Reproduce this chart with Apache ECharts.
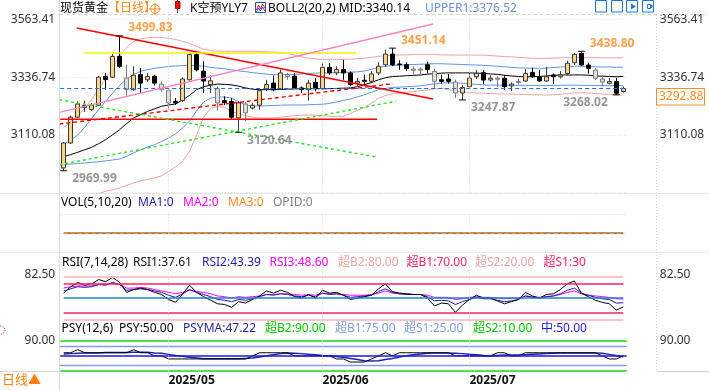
<!DOCTYPE html>
<html>
<head>
<meta charset="utf-8">
<title>现货黄金 日线</title>
<script src="https://cdn.jsdelivr.net/npm/echarts@6.0.0/dist/echarts.min.js"></script>
<style>
html,body{margin:0;padding:0;background:#ffffff;overflow:hidden;}
#chart{width:709px;height:390px;}
</style>
</head>
<body>
<div id="chart"></div>
<script>
// ================= DATA =================
const dates = ['2025-04-09','2025-04-10','2025-04-11','2025-04-14','2025-04-15','2025-04-16','2025-04-17','2025-04-21','2025-04-22','2025-04-23','2025-04-24','2025-04-25','2025-04-28','2025-04-29','2025-04-30',
'2025-05-01','2025-05-02','2025-05-05','2025-05-06','2025-05-07','2025-05-08','2025-05-09','2025-05-12','2025-05-13','2025-05-14','2025-05-15','2025-05-16','2025-05-19','2025-05-20','2025-05-21','2025-05-22','2025-05-23','2025-05-26','2025-05-27','2025-05-28','2025-05-29','2025-05-30',
'2025-06-02','2025-06-03','2025-06-04','2025-06-05','2025-06-06','2025-06-09','2025-06-10','2025-06-11','2025-06-12','2025-06-13','2025-06-16','2025-06-17','2025-06-18','2025-06-19','2025-06-20','2025-06-23','2025-06-24','2025-06-25','2025-06-26','2025-06-27','2025-06-30',
'2025-07-01','2025-07-02','2025-07-03','2025-07-04','2025-07-07','2025-07-08','2025-07-09','2025-07-10','2025-07-11','2025-07-14','2025-07-15','2025-07-16','2025-07-17','2025-07-18','2025-07-21','2025-07-22','2025-07-23','2025-07-24','2025-07-25','2025-07-28','2025-07-29','2025-07-30','2025-07-31'];

const opens = [2980.5,3078.7,3180,3218,3210,3227,3340,3337,3419,3334, 3288,3347,3327,3341,3310,3284,3242,3245,3327,3426, 3361,3308,3292,3245,3242,3177,3232,3216,3227,3291, 3314,3291,3347,3341,3295,3288,3317,3292,3376,3354, 3367,3354,3314,3325,3321,3354,3386,3428,3389,3386, 3369,3369,3386,3360,3327,3330,3318,3275,3300,3339, 3355,3326,3333,3333,3303,3320,3322,3356,3337,3322, 3346,3339,3352,3394,3431,3385,3365,3330,3313,3320, 3281];
const closes = [3078.7,3180,3232,3226,3227,3337,3328,3419,3380,3288, 3345,3314,3340,3314,3288,3236,3236,3330,3426,3366, 3322,3323,3236,3237,3180,3236,3197,3227,3284,3308, 3288,3354,3340,3295,3289,3314,3292,3376,3354,3367, 3354,3308,3321,3321,3350,3380,3428,3386,3386,3371, 3364,3365,3367,3321,3321,3321,3275,3297,3333,3352, 3326,3333,3329,3300,3310,3316,3352,3339,3322,3339, 3339,3346,3392,3427,3385,3372,3333,3318,3320,3274, 3292.88];
const lows = [2969.99,3075,3175,3200,3205,3224,3288,3334,3373,3262, 3284,3275,3318,3305,3280,3210,3228,3240,3324,3360, 3275,3275,3206,3227,3170,3120.64,3164,3210,3210,3282, 3282,3288,3327,3291,3275,3245,3282,3288,3347,3345, 3327,3301,3301,3308,3314,3345,3378,3380,3366,3362, 3347,3342,3352,3295,3312,3312,3256,3247.87,3297,3330, 3311,3320,3298,3287,3283,3308,3318,3335,3318,3319, 3310,3332,3345,3385,3381,3351,3325,3301,3309,3268.02, 3276];
const highs = [3083,3186,3242,3245,3235,3342,3354,3428,3499.83,3386, 3380,3373,3354,3347,3320,3290,3255,3336,3433,3434, 3400,3344,3301,3262,3255,3243,3240,3236,3292,3327, 3344,3367,3354,3354,3301,3327,3334,3393,3393,3380, 3406,3360,3334,3347,3360,3396,3445,3451.14,3404,3396, 3379,3375,3398,3370,3347,3350,3328,3306,3358,3366, 3365,3345,3342,3345,3317,3330,3369,3375,3366,3377, 3352,3361,3402,3433,3438.80,3394,3373,3345,3334,3334, 3300];
// candle colouring class of the source software: u = yellow, d = black, g = grey
const kinds = 'uuuuuududg' + 'ududggduud' + 'dugdduguuu' + 'dugddududu' + 'dduduuuddd' + 'ggdgddguuu' + 'dugduguddu' + 'duuuddggud' + 'u';

const priceTickLabels = [3563.41, 3336.74, 3110.08];
const lastPrice = 3292.88;

const bollMid = [3025,3033,3042,3052,3062,3076,3092,3111,3131,3155, 3177,3190,3203,3213,3223,3228,3232,3248,3266,3288, 3300,3306,3310,3309,3307,3302,3295,3290,3288,3288, 3288,3289,3290,3291,3292,3292,3292,3292,3292,3293, 3294,3295,3300,3308,3316,3327,3335,3340,3341,3343, 3344,3346,3349,3351,3353,3354,3354,3354,3354,3353, 3352,3350,3348,3345,3342,3340,3339,3339,3340,3342, 3344,3346,3346,3346,3346,3345,3342,3341,3340,3339, 3340.14];
const bollUpper1 = [3075,3090,3110,3140,3175,3210,3242,3275,3305,3330, 3348,3360,3367,3372,3376,3379,3381,3383,3384,3383, 3380,3376,3373,3370,3366,3362,3359,3355,3352,3349, 3347,3347,3347,3348,3350,3352,3353,3354,3354,3355, 3356,3357,3358,3362,3368,3376,3380,3383,3385,3386, 3387,3388,3389,3390,3390,3389,3388,3387,3386,3385, 3384,3382,3380,3378,3376,3374,3373,3372,3372,3373, 3375,3377,3379,3380,3380,3379,3378,3377,3377,3376, 3376.52];
const bollLower1 = [2994,2996,2998,3000,3003,3005,3008,3012,3016,3026, 3040,3052,3063,3072,3085,3098,3115,3138,3165,3205, 3240,3255,3260,3259,3255,3240,3228,3224,3224,3225, 3226,3227,3228,3228,3228,3229,3230,3231,3234,3240, 3246,3252,3260,3268,3278,3288,3293,3297,3298,3300, 3301,3303,3307,3311,3314,3315,3315,3313,3311,3309, 3307,3306,3306,3306,3306,3305,3305,3305,3304,3304, 3305,3305,3306,3306,3305,3305,3304,3304,3304,3304, 3303.8];
const bollUpper2 = [3140,3160,3185,3215,3250,3290,3330,3375,3420,3455, 3478,3488,3492,3494,3493,3490,3485,3478,3470,3458, 3447,3442,3440,3439,3439,3439,3439,3439,3438,3437, 3436,3434,3430,3424,3417,3412,3409,3407,3406,3406, 3407,3408,3410,3412,3415,3419,3421,3423,3424,3425, 3426,3426,3426,3426,3425,3424,3424,3424,3424,3424, 3424,3422,3420,3418,3417,3415,3413,3412,3411,3411, 3412,3413,3414,3414,3414,3414,3414,3413,3413,3413, 3412.9];
const bollLower2 = [2850,2850,2855,2860,2870,2880,2889,2895,2902,2912, 2922,2930,2936,2941,2950,2967,2985,3007,3046,3110, 3180,3215,3222,3218,3205,3192,3186,3180,3177,3176, 3178,3180,3183,3186,3188,3189,3188,3186,3184,3183, 3184,3195,3208,3218,3235,3255,3265,3272,3275,3278, 3281,3284,3287,3291,3294,3288,3282,3279,3277,3275, 3274,3273,3272,3271,3271,3270,3269,3268,3268,3267, 3268,3270,3273,3275,3276,3275,3273,3271,3269,3268, 3267.4];

// marked highs / lows (candle index, price)
const extremeIdx = [8, 47, 74, 0, 25, 57, 79];
const extremeVal = [3499.83, 3451.14, 3438.80, 2969.99, 3120.64, 3247.87, 3268.02];

// hand-drawn lines: [[candle index, price], [candle index, price]]
const trendRedDown   = [[1.86, 3530.4], [52.8, 3251.5]];
const trendYellow    = [[2.95, 3432.2], [41.8, 3432.2]];
const trendRedFlat   = [[-0.5, 3172.0], [44.8, 3172.0]];
const trendPinkUp    = [[-0.63, 3199.3], [52.8, 3546.1]];
const trendRedDashed = [[-0.63, 3153.3], [47.1, 3311.6]];
const trendGreenDown = [[-0.63, 3248.8], [44.9, 3022.5]];
const trendGreenUp   = [[-0.63, 2993.4], [47.5, 3242.5]];

const volume = [0,0,0,0,0,0,0,0,0,0, 0,0,0,0,0,0,0,0,0,0, 0,0,0,0,0,0,0,0,0,0, 0,0,0,0,0,0,0,0,0,0, 0,0,0,0,0,0,0,0,0,0, 0,0,0,0,0,0,0,0,0,0, 0,0,0,0,0,0,0,0,0,0, 0,0,0,0,0,0,0,0,0,0, 0];

const rsi1 = [57,66,72,68,70,76,73,79,72,58, 62,64,62,58,55,48,44,56,68,58, 52,47,42,41,37,45,43,48,53,60, 57,61,58,52,50,55,50,61,57,58, 54,48,50,52,54,63,70,59,57,56, 55,55,50,39,43,42,30,40,48,54, 50,50,46,42,45,48,58,53,50,55, 56,62,70,74,57,52,47,44,42,33, 37.61];
const rsi2 = [60,63,66,65,66,69,68,72,69,61, 62,63,62,60,58,54,51,56,62,58, 55,52,48,47,45,48,47,49,52,55, 54,56,55,53,52,54,52,57,55,56, 54,51,52,53,54,59,63,58,56,55, 55,55,52,46,47,46,41,45,48,51, 49,49,47,45,46,48,53,51,50,52, 53,56,61,64,57,54,51,49,48,43, 43.39];
const rsi3 = [64,66,67,67,67,69,69,71,69,64, 64,65,64,62,60,58,56,58,61,59, 58,56,53,52,50,52,51,52,53,55, 55,56,56,55,54,55,54,57,56,56, 55,54,54,54,55,57,60,57,56,56, 55,55,54,51,51,51,48,49,51,52, 51,51,50,49,50,50,53,52,51,52, 53,55,58,60,56,54,53,52,51,49, 48.60];
const rsiLevels = [80, 70, 50, 30, 20];

const psy = [58.33,58.33,66.67,58.33,58.33,58.33,58.33,58.33,58.33,58.33, 66.67,58.33,58.33,50,50,41.67,41.67,41.67,41.67,41.67, 41.67,41.67,41.67,41.67,41.67,41.67,41.67,50,58.33,58.33, 58.33,58.33,58.33,50,50,50,50,50,50,41.67, 41.67,33.33,33.33,33.33,41.67,50,58.33,50,58.33,58.33, 58.33,58.33,58.33,58.33,58.33,58.33,50,50,50,50, 50,50,58.33,58.33,50,50,58.33,58.33,58.33,58.33, 58.33,58.33,58.33,58.33,58.33,58.33,58.33,50,41.67,41.67, 50];
const psyMa = [55,56,57,58,58,58,59,59,59,59, 60,60,60,58,57,54,51,49,46,44, 42,42,42,42,42,42,43,44,47,50, 53,56,58,57,56,54,53,51,50,48, 46,43,40,37,36,37,40,43,47,50, 53,55,57,58,58,58,57,56,54,53, 51,50,51,52,52,52,53,54,55,56, 57,58,58,58,58,58,58,57,54,51, 47.22];
const psyLevels = [90, 75, 50, 25, 10];

const monthTicks = ['2025-05-01', '2025-06-02', '2025-07-01'];
const monthLabels = ['2025/05', '2025/06', '2025/07'];

const bollMidValue = 3340.14;
const bollUpper1Value = 3376.52;
const rsiValues = [37.61, 43.39, 48.60];
const psyValue = 50.00;
const psyMaValue = 47.22;

// ================= CHART =================
const FONT = '"Noto Sans","Noto Sans CJK SC",sans-serif';
const N = dates.length;
const LAST = N - 1;
const chart = echarts.init(document.getElementById('chart'), null, {renderer: 'canvas', width: 709, height: 390});

const kindStyle = {
  u: {fill: '#f8d488', border: '#3a3a3a'},
  d: {fill: '#000000', border: '#000000'},
  g: {fill: '#dedede', border: '#7c7c7c'}
};
const candleData = dates.map((d, i) => {
  const k = kindStyle[kinds[i]];
  return {value: [opens[i], closes[i], lows[i], highs[i]],
    itemStyle: {color: k.fill, color0: k.fill, borderColor: k.border, borderColor0: k.border, borderWidth: 1}};
});

const GL = 60.2, GW = 566.6;
const grids = [
  {left: GL, width: GW, top: 14.5, height: 178.2},
  {left: GL, width: GW, top: 214, height: 19.3},
  {left: GL, width: GW, top: 264.95, height: 59.85},
  {left: GL, width: GW, top: 337.3, height: 37.1}
].map(g => Object.assign(g, {containLabel: false, outerBoundsMode: 'none', borderWidth: 0}));

const axisText = {color: '#333333', fontSize: 12, fontFamily: FONT};
function catAxis(gridIndex, withLabels) {
  return {
    type: 'category', gridIndex, data: dates, boundaryGap: true,
    axisLine: {show: false}, axisTick: {show: false}, splitLine: {show: false},
    axisLabel: withLabels ? {
      show: true, interval: (idx, val) => monthTicks.indexOf(val) >= 0,
      formatter: (val) => monthLabels[monthTicks.indexOf(val)] || '',
      align: 'left', margin: 0, color: '#111', fontWeight: 'bold', fontSize: 12, fontFamily: FONT
    } : {show: false}
  };
}
function valAxis(gridIndex, position, min, max, interval, fmt, split) {
  return {
    type: 'value', gridIndex, position, min, max, interval, scale: false,
    axisLine: {show: false}, axisTick: {show: false},
    axisLabel: fmt ? Object.assign({show: true, formatter: fmt, showMinLabel: false, showMaxLabel: false,
      margin: position === 'left' ? 5 : 33}, axisText) : {show: false},
    splitLine: split ? {show: true, lineStyle: split} : {show: false}
  };
}
const mainFmt = v => { const m = priceTickLabels.find(t => Math.abs(t - v) < 0.1); return m ? m.toFixed(2) : ''; };
const rsiFmt = v => Math.abs(v - 82.5) < 0.01 ? '82.50' : '';
const psyFmt = v => Math.abs(v - 90) < 0.01 ? '90.00' : '';

const xAxes = [
  catAxis(0, false),
  {type: 'value', gridIndex: 0, min: -0.5, max: N - 0.5, show: false},
  catAxis(1, false),
  catAxis(2, false),
  catAxis(3, true)
];
const yAxes = [
  valAxis(0, 'left', 2883.41, 3583.41, 226.665, mainFmt, {color: '#e4e4e4', type: [1, 2], width: 1}),
  valAxis(0, 'right', 2883.41, 3583.41, 226.665, mainFmt, null),
  valAxis(1, 'left', 0, 1, 1, null, {color: '#e4e4e4', type: [2, 2], width: 1}),
  valAxis(2, 'left', 12.5, 96.5, 70, rsiFmt, null),
  valAxis(2, 'right', 12.5, 96.5, 70, rsiFmt, null),
  valAxis(3, 'left', 0, 100, 90, psyFmt, null),
  valAxis(3, 'right', 0, 100, 90, psyFmt, null)
];

const monthLine = (extra) => Object.assign({
  silent: true, symbol: ['none', 'none'], label: {show: false},
  lineStyle: {color: '#d6d6d6', type: [1, 2], width: 1},
  data: monthTicks.map(d => ({xAxis: d}))
}, extra || {});

function line(name, data, xi, yi, color, width, extra) {
  return Object.assign({
    name, type: 'line', data, xAxisIndex: xi, yAxisIndex: yi, symbol: 'none', smooth: false,
    lineStyle: {color, width}, silent: true, z: 3
  }, extra || {});
}
function trend(name, pts, color, width, type) {
  return {name, type: 'line', data: pts, xAxisIndex: 1, yAxisIndex: 0, symbol: 'none', silent: true,
    lineStyle: {color, width, type}, z: 6, clip: true};
}

const rsiLevelStyle = {80: ['#f6b3b3', 1.5], 70: ['#ff1f64', 1.5], 50: ['#1f80d0', 1.5], 30: ['#ff1f64', 1.5], 20: ['#f6b3b3', 1.5]};
const psyLevelStyle = {90: ['#11dd11', 1.5], 75: ['#7f9ee2', 1.3], 50: ['#1a1ae0', 1.5], 25: ['#7f9ee2', 1.3], 10: ['#11dd11', 1.5]};

const extremeData = extremeIdx.map((i, k) => {
  const v = extremeVal[k];
  const isHigh = Math.abs(v - highs[i]) < 0.001;
  const nearRight = i > N - 5;
  return {
    value: [dates[i], v],
    label: {
      show: true, formatter: v.toFixed(2),
      position: nearRight ? 'left' : 'right', distance: 5,
      offset: [0, isHigh ? -8 : 8],
      color: isHigh ? '#ff8a1e' : '#7c7c7c', fontWeight: 'bold', fontSize: 12, fontFamily: FONT
    }
  };
});

const series = [
  line('UPPER2', bollUpper2, 0, 0, '#f2a1a1', 1),
  line('LOWER2', bollLower2, 0, 0, '#f2a1a1', 1),
  line('UPPER1', bollUpper1, 0, 0, '#5f92e8', 1),
  line('LOWER1', bollLower1, 0, 0, '#5f92e8', 1),
  line('MID', bollMid, 0, 0, '#000000', 1, {markLine: monthLine()}),
  {
    name: 'K', type: 'candlestick', xAxisIndex: 0, yAxisIndex: 0, data: candleData, barWidth: 5, z: 4, silent: true,
    markLine: {
      silent: true, symbol: ['none', 'none'], label: {show: false},
      lineStyle: {color: '#1f6fe0', type: [4, 3], width: 1.2},
      data: [{yAxis: lastPrice}]
    }
  },
  trend('redDown', trendRedDown, '#ff0000', 1.5, 'solid'),
  trend('yellow', trendYellow, '#f4f400', 1.3, 'solid'),
  trend('redFlat', trendRedFlat, '#ff0000', 1.5, 'solid'),
  trend('pinkUp', trendPinkUp, '#ff80c4', 1.3, 'solid'),
  trend('redDashed', trendRedDashed, '#f00000', 1.4, [4, 3]),
  trend('greenDown', trendGreenDown, '#22e622', 1.4, [3, 3]),
  trend('greenUp', trendGreenUp, '#22e622', 1.4, [3, 3]),
  {
    name: 'extremes', type: 'scatter', xAxisIndex: 0, yAxisIndex: 0, data: extremeData,
    symbol: 'rect', symbolSize: [7, 1.2], itemStyle: {color: '#000'}, z: 8, silent: true
  },
  // VOL
  line('VOL-OPID', volume, 2, 2, '#7a7a7a', 2, {markLine: monthLine()}),
  line('VOL-MA', volume, 2, 2, '#ff8c1a', 1.5, {lineStyle: {color: '#ff8c1a', width: 1.5, type: [4, 3]}, z: 4}),
  // RSI
  line('RSI3', rsi3, 3, 3, '#ff00ff', 1, {
    markLine: {silent: true, symbol: ['none', 'none'], label: {show: false},
      data: rsiLevels.map(v => [{coord: [dates[0], v], lineStyle: {color: rsiLevelStyle[v][0], width: rsiLevelStyle[v][1], type: 'solid'}}, {coord: [dates[LAST], v]}])}
  }),
  line('RSI2', rsi2, 3, 3, '#1c1ca8', 1, {markLine: monthLine()}),
  line('RSI1', rsi1, 3, 3, '#000000', 1),
  // PSY
  line('PSYMA', psyMa, 4, 5, '#2121b4', 1.5, {
    markLine: {silent: true, symbol: ['none', 'none'], label: {show: false},
      data: psyLevels.map(v => ({yAxis: v, lineStyle: {color: psyLevelStyle[v][0], width: psyLevelStyle[v][1], type: 'solid'}}))}
  }),
  line('PSY', psy, 4, 5, '#000000', 1, {step: false, markLine: monthLine()})
];

// ----- legend texts & decorations -----
let gid = 0;
const G = [];
function txt(x, y, text, fill, size, weight) {
  G.push({type: 'text', id: 't' + (gid++), silent: true, z: 50,
    style: {x, y, text, fill, font: (weight || 'normal') + ' ' + (size || 12) + 'px ' + FONT,
      align: 'left', textAlign: 'left', verticalAlign: 'middle', textVerticalAlign: 'middle'}});
}
function seg(x1, y1, x2, y2, stroke, w, dash) {
  G.push({type: 'line', id: 'l' + (gid++), silent: true, z: 40,
    shape: {x1, y1, x2, y2}, style: {stroke, lineWidth: w || 1, lineDash: dash || null}});
}
function box(x, y, w, h, stroke, fill, lw) {
  G.push({type: 'rect', id: 'r' + (gid++), silent: true, z: 45,
    shape: {x, y, width: w, height: h}, style: {stroke, fill: fill || 'none', lineWidth: lw || 1}});
}

// frame lines
seg(59.5, 0, 59.5, 390, '#d9d9d9', 1);
seg(656.5, 15, 656.5, 371, '#d4d4d4', 1, [1, 2]);
seg(60, 14.5, 709, 14.5, '#d0d0d0', 1, [3, 3]);
seg(0, 193.5, 709, 193.5, '#e6e6e6', 1);
seg(0, 252.5, 709, 252.5, '#e9e9e9', 1);
seg(0, 371.5, 59.5, 371.5, '#d5d5d5', 1);
seg(656.5, 371.5, 709, 371.5, '#d5d5d5', 1);

// top row
txt(60, 8.5, '现货黄金', '#000');
txt(108, 8.5, '【日线】', '#ff8a1e');
G.push({type: 'circle', id: 'c' + (gid++), silent: true, z: 50, shape: {cx: 155, cy: 9, r: 4.5}, style: {stroke: '#ff8a1e', fill: 'none', lineWidth: 1}});
seg(149, 9, 161, 9, '#ff8a1e', 1);
seg(155, 3, 155, 15, '#ff8a1e', 1);
seg(177.5, 0, 177.5, 13, '#444', 1);
box(175.5, 1.5, 4.5, 7, '#b00000', '#ee1111', 1);
txt(190, 8.5, 'K空预YLY7', '#000');
box(255.5, 2.5, 10, 10, '#2c4fa8', '#ffffff', 1);
G.push({type: 'polyline', id: 'p' + (gid++), silent: true, z: 51, shape: {points: [[256.5, 10], [258.5, 5], [260.5, 9], [262.5, 4], [265, 8]]}, style: {stroke: '#e01010', fill: 'none', lineWidth: 1}});
G.push({type: 'polyline', id: 'p' + (gid++), silent: true, z: 51, shape: {points: [[256.5, 12], [258.5, 8], [260.5, 11], [262.5, 7], [265, 11]]}, style: {stroke: '#2040c0', fill: 'none', lineWidth: 1}});
txt(268, 8.5, 'BOLL2(20,2) MID:' + bollMidValue.toFixed(2), '#000');
txt(425, 8.5, 'UPPER1:' + bollUpper1Value.toFixed(2), '#6d90dc');

// toolbar icons (top right)
[595, 611, 626, 642].forEach((x, k) => {
  box(x + 0.5, 0.5, 11, 11.5, '#1f76cc', '#ffffff', 1);
  if (k === 0) { seg(x + 6, 2.5, x + 6, 10, '#1f76cc', 1, [1, 1]); seg(x + 2.5, 6.5, x + 10, 6.5, '#1f76cc', 1, [1, 1]); }
  if (k === 1) { seg(x + 3.5, 2.5, x + 3.5, 10.5, '#1f76cc', 1); seg(x + 8.5, 2.5, x + 8.5, 10.5, '#1f76cc', 1); seg(x + 3.5, 9.5, x + 10, 9.5, '#1f76cc', 1); }
  if (k === 2) { seg(x + 3.5, 2.5, x + 3.5, 10.5, '#1f76cc', 1); G.push({type: 'polygon', id: 'q' + (gid++), silent: true, z: 51, shape: {points: [[x + 5, 3.5], [x + 10, 6.5], [x + 5, 9.5]]}, style: {fill: '#1f76cc'}}); }
  if (k === 3) { seg(x + 3.5, 2.5, x + 3.5, 10.5, '#1f76cc', 1); box(x + 5.5, 4.5, 3, 4, '#1f76cc', '#ffffff', 1); G.push({type: 'polygon', id: 'q' + (gid++), silent: true, z: 51, shape: {points: [[x + 8.5, 3.5], [x + 11, 6.5], [x + 8.5, 9.5]]}, style: {fill: '#1f76cc'}}); }
});

// VOL row
txt(61, 202.5, 'VOL(5,10,20)', '#000');
txt(138, 202.5, 'MA1:' + volume[LAST], '#1c1c9c');
txt(183, 202.5, 'MA2:' + volume[LAST], '#ff00ff');
txt(228, 202.5, 'MA3:' + volume[LAST], '#ff8a1e');
txt(273, 202.5, 'OPID:' + volume[LAST], '#808080');

// RSI row
txt(62, 263, 'RSI(7,14,28)', '#000');
txt(133, 263, 'RSI1:' + rsiValues[0].toFixed(2), '#1a0a00');
txt(202, 263, 'RSI2:' + rsiValues[1].toFixed(2), '#1c1ca8');
txt(269.5, 263, 'RSI3:' + rsiValues[2].toFixed(2), '#ff00ff');
txt(338, 263, '超B2:' + rsiLevels[0].toFixed(2), '#f4a3a3');
txt(406.5, 263, '超B1:' + rsiLevels[1].toFixed(2), '#ff1f64');
txt(475, 263, '超S2:' + rsiLevels[4].toFixed(2), '#f4a3a3');
txt(543.5, 263, '超S1:' + rsiLevels[3], '#ff1f64');

// PSY row
txt(61.5, 328.5, 'PSY(12,6)', '#000');
txt(119, 328.5, 'PSY:' + psyValue.toFixed(2), '#000');
txt(183, 328.5, 'PSYMA:' + psyMaValue.toFixed(2), '#25259a');
txt(265, 328.5, '超B2:' + psyLevels[0].toFixed(2), '#00c800');
txt(335, 328.5, '超B1:' + psyLevels[1].toFixed(2), '#7f9ee2');
txt(404, 328.5, '超S1:' + psyLevels[3].toFixed(2), '#7f9ee2');
txt(473, 328.5, '超S2:' + psyLevels[4].toFixed(2), '#00c800');
txt(541, 328.5, '中:' + psyLevels[2].toFixed(2), '#1a1ae0');

// bottom-left period switch
txt(2, 380, '日线▲', '#ff7f0e', 13);
// small red marker at left edge
G.push({type: 'circle', id: 'c' + (gid++), silent: true, z: 50, shape: {cx: 1, cy: 330, r: 4}, style: {stroke: '#e02020', fill: 'none', lineWidth: 1, lineDash: [1, 1.5]}});

const option = {
  animation: false,
  backgroundColor: '#ffffff',
  textStyle: {fontFamily: FONT},
  grid: grids,
  xAxis: xAxes,
  yAxis: yAxes,
  series,
  graphic: {elements: G}
};
chart.setOption(option);

// current price tag on the right axis
const py = Math.round(chart.convertToPixel({yAxisIndex: 0}, lastPrice));
chart.setOption({graphic: {elements: [
  {type: 'rect', id: 'priceBox', silent: true, z: 60, shape: {x: 656.5, y: py + 0.5, width: 48, height: 16.5}, style: {fill: '#ffffff', stroke: '#ff8a1e', lineWidth: 1}},
  {type: 'text', id: 'priceTxt', silent: true, z: 61, style: {x: 659, y: py + 9, text: lastPrice.toFixed(2), fill: '#ff8a1e', font: '12px ' + FONT, align: 'left', textAlign: 'left', verticalAlign: 'middle', textVerticalAlign: 'middle'}}
]}});
</script>
</body>
</html>
